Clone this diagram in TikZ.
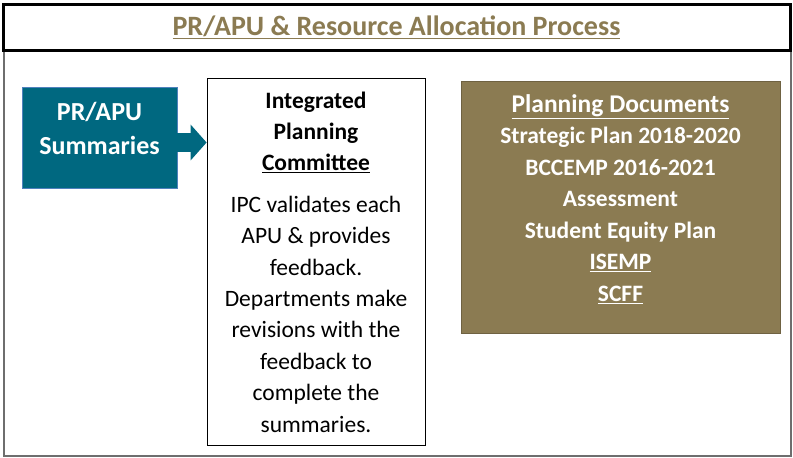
\documentclass[tikz,border=0pt]{standalone}
\usepackage{fontspec}
\setmainfont{Carlito}
\usepackage{tikz}
\usetikzlibrary{positioning, arrows.meta}
\definecolor{olivecolor}{RGB}{139,123,82}
\definecolor{tealcolor}{RGB}{0,104,128}
\definecolor{tealborder}{RGB}{79,129,189}
\definecolor{framegray}{RGB}{110,110,110}

\begin{document}
\begin{tikzpicture}[
    x=1pt, y=-1pt,
    titlebox/.style={
        rectangle,
        draw=black,
        line width=3pt,
        fill=white,
        minimum width=787pt,
        minimum height=46pt,
        text=olivecolor,
        font=\fontsize{28pt}{33pt}\selectfont\bfseries
    },
    summbox/.style={
        rectangle,
        draw=tealborder,
        fill=tealcolor,
        line width=0.8pt,
        minimum width=155pt,
        minimum height=101pt,
        align=center,
        text=white,
        text depth=18pt,
        font=\fontsize{26pt}{33.5pt}\selectfont\bfseries
    },
    ipcbox/.style={
        rectangle,
        draw=black,
        line width=0.8pt,
        fill=white,
        minimum width=218pt,
        minimum height=367pt,
        align=center,
        font=\fontsize{23.5pt}{31.4pt}\selectfont
    },
    planbox/.style={
        rectangle,
        draw=olivecolor!80!black,
        fill=olivecolor,
        line width=0.8pt,
        minimum width=319pt,
        minimum height=252pt,
        align=center,
        text=white,
        text depth=19pt,
        font=\fontsize{23.5pt}{31.5pt}\selectfont\bfseries
    },
    bigarrow/.style={
        -{Triangle[width=35pt, length=16pt]},
        line width=19pt,
        color=tealcolor
    }
]

\useasboundingbox (0,0) rectangle (793,458);

% Outer frame
\draw[framegray, line width=1.5pt] (4,50) rectangle (791,456);

% Title
\node[titlebox] (title) at (396.5,27.5) {\underline{PR/APU \& Resource Allocation Process}};

% PR/APU summaries
\node[summbox] (summ) at (99.5,137.5) {PR/APU\\Summaries};

% Integrated Planning Committee
\node[ipcbox] (ipc) at (316,262) {
    \textbf{Integrated}\\
    \textbf{Planning}\\
    \textbf{\underline{Committee}}\\[10pt]
    IPC validates each\\
    APU \& provides\\
    feedback.\\
    Departments make\\
    revisions with the\\
    feedback to\\
    complete the\\
    summaries.
};

% Planning documents
\node[planbox] (plan) at (620.5,207.5) {
    \underline{\fontsize{25.5pt}{31.5pt}\selectfont Planning Documents}\\
    Strategic Plan 2018-2020\\
    BCCEMP 2016-2021\\
    Assessment\\
    Student Equity Plan\\
    \underline{ISEMP}\\
    \underline{SCFF}
};

% Arrow
\draw[bigarrow] ([yshift=-5pt]summ.east) -- ([yshift=-5pt]summ.east -| ipc.west);

\end{tikzpicture}
\end{document}
